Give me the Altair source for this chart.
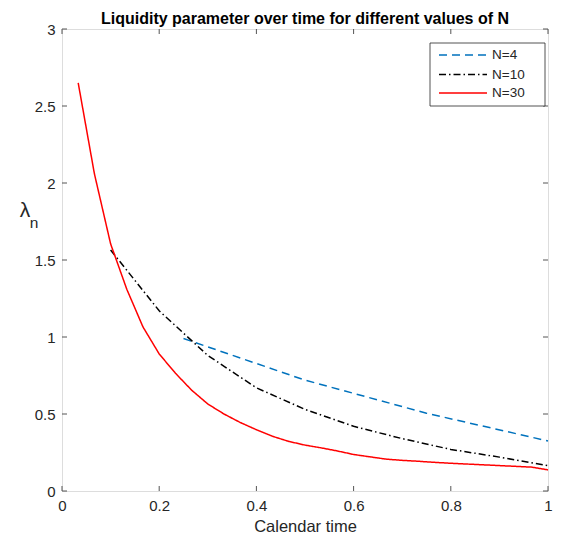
import altair as alt
import pandas as pd

# ---- data ----
t4 = [0.25, 0.5, 0.75, 1.0]
lam4 = [0.99, 0.72, 0.505, 0.325]

t10 = [0.1, 0.2, 0.3, 0.4, 0.5, 0.6, 0.7, 0.8, 0.9, 1.0]
lam10 = [1.565, 1.17, 0.88, 0.67, 0.53, 0.42, 0.34, 0.27, 0.22, 0.165]

t30 = [k / 30 for k in range(1, 31)]
lam30 = [2.65, 2.06, 1.605, 1.31, 1.065, 0.89, 0.765, 0.655, 0.565, 0.50,
         0.445, 0.398, 0.355, 0.322, 0.298, 0.28, 0.26, 0.237, 0.222, 0.207,
         0.199, 0.193, 0.186, 0.18, 0.175, 0.17, 0.165, 0.16, 0.155, 0.137]

series_names = ["N=4", "N=10", "N=30"]
series_colors = ["#0072BD", "#000000", "#FF0000"]
series_dashes = [[8, 5], [7, 3, 1.5, 3], [1, 0]]

x_ticks = [0, 0.2, 0.4, 0.6, 0.8, 1.0]
y_ticks = [0, 0.5, 1.0, 1.5, 2.0, 2.5, 3.0]

title_text = "Liquidity parameter over time for different values of N"
x_title = "Calendar time"

# ---- build tables ----
rows = []
for name, ts, ls in zip(series_names, [t4, t10, t30], [lam4, lam10, lam30]):
    for t, l in zip(ts, ls):
        rows.append({"t": t, "lam": l, "series": name})
df = pd.DataFrame(rows)
xt = pd.DataFrame({"v": x_ticks})
yt = pd.DataFrame({"v": y_ticks})

W, H = 486, 462
FONT = "Liberation Sans"
TXT = "#262626"
AX = "#555555"

xscale = alt.Scale(domain=[0, 1], nice=False, zero=False)
yscale = alt.Scale(domain=[0, 3], nice=False, zero=False)

x_axis = alt.Axis(values=x_ticks, format="~g", tickSize=0, domain=False, grid=False,
                  labelFontSize=15, labelColor=TXT, labelFont=FONT, labelPadding=7,
                  labelFlush=False, labelOverlap=False,
                  title=x_title, titleFontSize=16.5, titleFontWeight="normal",
                  titleColor=TXT, titleFont=FONT, titlePadding=5)
y_axis = alt.Axis(values=y_ticks, format="~g", tickSize=0, domain=False, grid=False,
                  labelFontSize=15, labelColor=TXT, labelFont=FONT, labelPadding=7,
                  labelFlush=False, labelOverlap=False, title=None)

lines = alt.Chart(df).mark_line(strokeWidth=1.5).encode(
    x=alt.X("t:Q", scale=xscale, axis=x_axis),
    y=alt.Y("lam:Q", scale=yscale, axis=y_axis),
    color=alt.Color("series:N", scale=alt.Scale(domain=series_names, range=series_colors), legend=None),
    strokeDash=alt.StrokeDash("series:N", scale=alt.Scale(domain=series_names, range=series_dashes), legend=None),
    detail="series:N",
)

tick_len = 5
xt_bottom = alt.Chart(xt).mark_rule(color=AX, strokeWidth=1).encode(
    x=alt.X("v:Q", scale=xscale), y=alt.value(H), y2=alt.value(H - tick_len))
xt_top = alt.Chart(xt).mark_rule(color=AX, strokeWidth=1).encode(
    x=alt.X("v:Q", scale=xscale), y=alt.value(0), y2=alt.value(tick_len))
yt_left = alt.Chart(yt).mark_rule(color=AX, strokeWidth=1).encode(
    y=alt.Y("v:Q", scale=yscale), x=alt.value(0), x2=alt.value(tick_len))
yt_right = alt.Chart(yt).mark_rule(color=AX, strokeWidth=1).encode(
    y=alt.Y("v:Q", scale=yscale), x=alt.value(W), x2=alt.value(W - tick_len))

one = pd.DataFrame({"a": [0]})
lam_label = alt.Chart(one).mark_text(text="λ", fontSize=21, font=FONT, color=TXT,
                                     align="center", baseline="middle").encode(
    x=alt.value(-37), y=alt.value(182))
n_label = alt.Chart(one).mark_text(text="n", fontSize=15.5, font=FONT, color=TXT,
                                   align="center", baseline="middle").encode(
    x=alt.value(-28), y=alt.value(194))

# ---- manual legend ----
lx0, lx1, ly0, ly1 = W - 118, W - 3, 14, 77
leg_box = alt.Chart(one).mark_rect(fill="white", stroke="#262626", strokeWidth=0.8).encode(
    x=alt.value(lx0), x2=alt.value(lx1), y=alt.value(ly0), y2=alt.value(ly1))
leg_layers = [leg_box]
row_y = [26, 45.5, 64]
for name, col, dash, yy in zip(series_names, series_colors, series_dashes, row_y):
    leg_layers.append(
        alt.Chart(one).mark_rule(color=col, strokeDash=dash, strokeWidth=1.5).encode(
            x=alt.value(lx0 + 9), x2=alt.value(lx0 + 57), y=alt.value(yy)))
    leg_layers.append(
        alt.Chart(one).mark_text(text=name, fontSize=13.5, font=FONT, color=TXT,
                                 align="left", baseline="middle").encode(
            x=alt.value(lx0 + 62), y=alt.value(yy)))

chart = alt.layer(
    lines, xt_bottom, xt_top, yt_left, yt_right, lam_label, n_label, *leg_layers
).properties(
    width=W, height=H,
    title=alt.TitleParams(title_text, fontSize=16, fontWeight="bold", font=FONT,
                          color="#000000", anchor="middle", offset=0, dy=5),
    autosize="none",
    padding={"left": 54, "top": 21, "right": 5, "bottom": 44},
).configure_view(stroke=AX, strokeWidth=1).configure(background="white")

chart.save("out.html", embed_options={"renderer": "svg", "actions": False})
